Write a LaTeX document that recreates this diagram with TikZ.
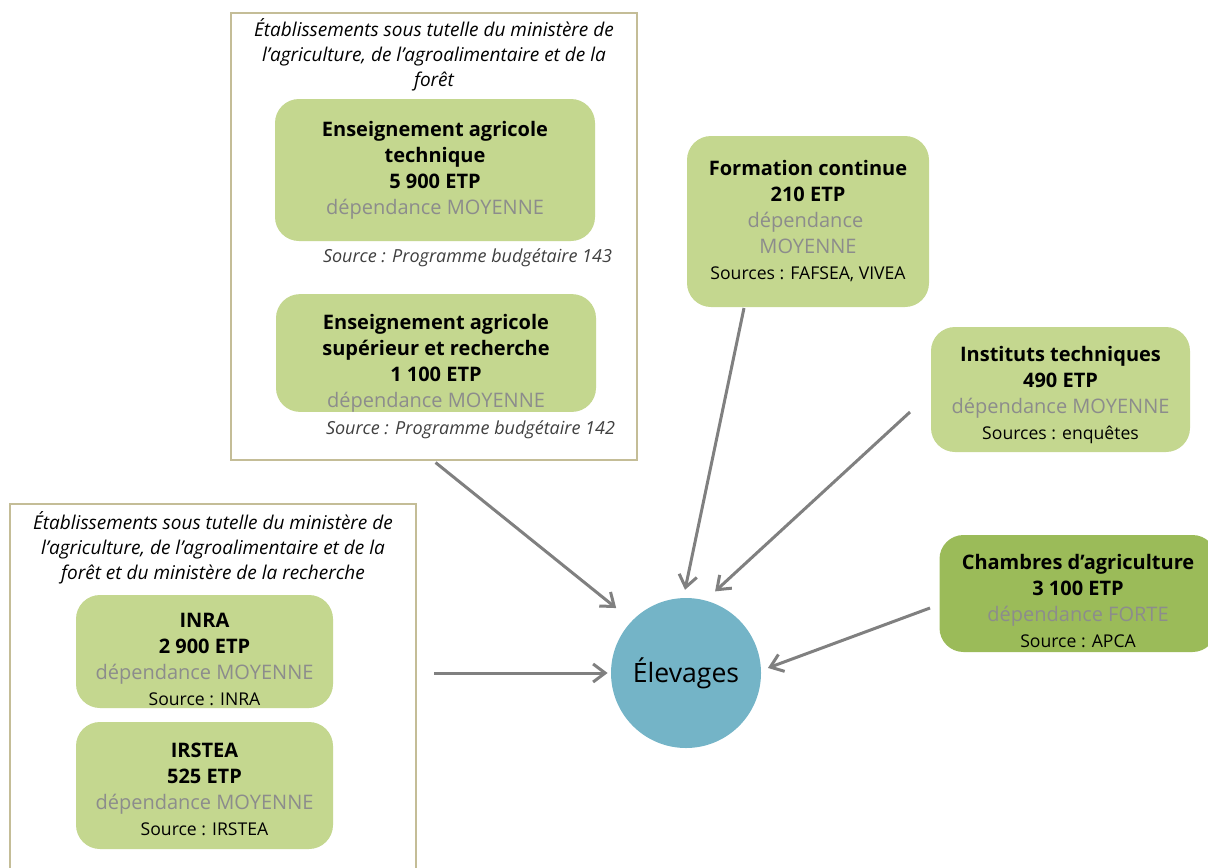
\documentclass[tikz,border=0pt]{standalone}
\usepackage{fontspec}
\setmainfont{Open Sans}
\usepackage{tikz}
\usetikzlibrary{positioning, arrows.meta}
\definecolor{leaf}{HTML}{C4D78F}
\definecolor{leafdark}{HTML}{9BBB59}
\definecolor{frameline}{HTML}{C4BD97}
\definecolor{pond}{HTML}{74B4C7}
\definecolor{arrowgray}{HTML}{808080}
\definecolor{depgray}{HTML}{8C8C8C}
\newcommand{\depnote}[1]{{\mdseries\color{depgray}dépendance #1}}
\newcommand{\srcnote}[1]{{\mdseries\fontsize{8.8}{13}\selectfont #1}}
\newcommand{\lift}[1]{\rule{0pt}{#1}}

\begin{document}
\begin{tikzpicture}[
      x=0.5pt, y=-0.5pt,
      >={Straight Barb[length=6pt,width=9pt]},
      frame/.style={draw=frameline,line width=1.3pt,fill=white,inner sep=0pt},
      box/.style={rounded corners=12pt,fill=leaf,align=center,inner sep=0pt,
                  font=\fontsize{10}{13}\selectfont\bfseries},
      ttl/.style={align=center,font=\fontsize{9.5}{12.5}\selectfont\itshape},
      src/.style={font=\fontsize{9}{11}\selectfont\itshape,text=black!75},
      link/.style={->,draw=arrowgray,line width=1.5pt,line join=round}
    ]
    \useasboundingbox (0,0) rectangle (1208,867);
    \clip (0,0) rectangle (1208,867);

    % frames
    \node[frame,minimum width=203pt,minimum height=223.5pt] (topframe) at (434,236.5) {};
    \node[frame,minimum width=203pt,minimum height=208pt] (botframe) at (213,712) {};
    \node[ttl] (toptitle) at (434,55)
      {Établissements sous tutelle du ministère de\\l’agriculture, de l’agroalimentaire et de la\\forêt};
    \node[ttl] (bottitle) at (213,548)
      {Établissements sous tutelle du ministère de\\l’agriculture, de l’agroalimentaire et de la\\forêt et du ministère de la recherche};

    % boxes
    \node[box,minimum width=160pt,minimum height=71pt] (tech) at (435,170)
      {Enseignement agricole\\technique\\5 900 ETP\\\depnote{MOYENNE}};
    \node[box,minimum width=160pt,minimum height=58pt] (sup) at (436,353)
      {\lift{17.5pt}Enseignement agricole\\supérieur et recherche\\1 100 ETP\\\depnote{MOYENNE}};
    \node[src,anchor=east] at (619,258) {Source : Programme budgétaire 143};
    \node[src,anchor=east] at (622,430) {Source : Programme budgétaire 142};

    \node[box,minimum width=121pt,minimum height=85.5pt] (fc) at (808,221.5)
      {Formation continue\\210 ETP\\\depnote{}\\{\mdseries\color{depgray}MOYENNE}\\\srcnote{Sources : FAFSEA, VIVEA}};
    \node[box,minimum width=129.5pt,minimum height=62.5pt] (it) at (1060.5,389.5)
      {\lift{13pt}Instituts techniques\\490 ETP\\\depnote{MOYENNE}\\\srcnote{Sources : enquêtes}};
    \node[box,fill=leafdark,minimum width=138.5pt,minimum height=58.5pt] (ca) at (1078,593.5)
      {\lift{15pt}Chambres d’agriculture\\3 100 ETP\\\depnote{FORTE}\\\srcnote{Source : APCA}};

    \node[box,minimum width=128.5pt,minimum height=56.5pt] (inra) at (204.5,651.5)
      {\lift{15pt}INRA\\2 900 ETP\\\depnote{MOYENNE}\\\srcnote{Source : INRA}};
    \node[box,minimum width=128.5pt,minimum height=63.5pt] (irstea) at (204.5,785.5)
      {\lift{11pt}IRSTEA\\525 ETP\\\depnote{MOYENNE}\\\srcnote{Source : IRSTEA}};

    % centre
    \node[circle,fill=pond,minimum size=75pt,inner sep=0pt,
          font=\fontsize{13.3}{16}\selectfont] (elev) at (686,673) {Élevages};

    % arrow starts
    \coordinate (fcout)  at (744,308);
    \coordinate (itout)  at (910,412);
    \coordinate (caout)  at (930,608);
    \coordinate (botout) at (434,673);

    % arrows into the centre
    \draw[link,shorten <=1pt,shorten >=10pt] (topframe.south) -- (elev.136);
    \draw[link,shorten >=4pt] (fcout) -- (elev.92);
    \draw[link,shorten >=6.5pt] (itout) -- (elev.75);
    \draw[link,shorten >=3.5pt] (caout) -- (elev.2);
    \draw[link,shorten >=1.5pt] (botout) -- (elev.west);

\end{tikzpicture}
\end{document}
